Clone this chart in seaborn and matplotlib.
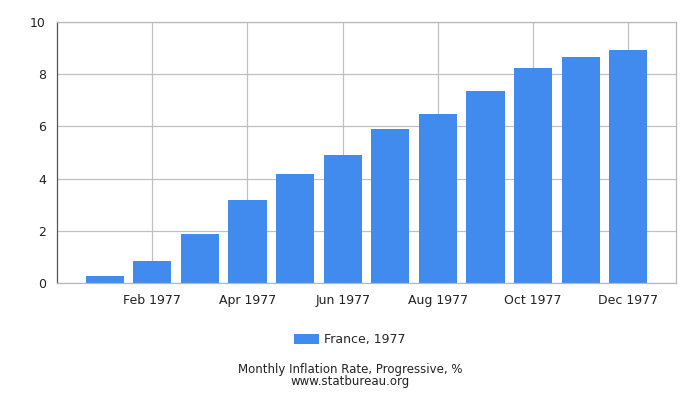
import matplotlib
matplotlib.use("Agg")
import matplotlib.pyplot as plt
import seaborn as sns
import pandas as pd

months = ["Jan 1977", "Feb 1977", "Mar 1977", "Apr 1977", "May 1977", "Jun 1977",
          "Jul 1977", "Aug 1977", "Sep 1977", "Oct 1977", "Nov 1977", "Dec 1977"]
values = [0.28, 0.86, 1.89, 3.19, 4.19, 4.92, 5.91, 6.49, 7.37, 8.25, 8.67, 8.94]
series_label = "France, 1977"
yticks = [0, 2, 4, 6, 8, 10]

sns.set_style("white")
plt.rcParams['font.family'] = ['DejaVu Sans']

df = pd.DataFrame({"month": months, "value": values, "series": series_label})

fig = plt.figure(figsize=(7, 4), dpi=100)
ax = fig.add_axes([57/700, 1 - 283/400, (676-57)/700, (283-22)/400])

sns.barplot(data=df, x="month", y="value", hue="series", order=months,
            palette=["#418bee"], width=0.8, ax=ax, legend=True, saturation=1,
            linewidth=0, edgecolor="none")

ax.set_xlim(-1, 12)
ax.set_ylim(0, 10)
ax.set_yticks(yticks)
ax.set_yticklabels([str(t) for t in yticks], fontsize=9, color="#222222")
tick_pos = [1, 3, 5, 7, 9, 11]
ax.set_xticks(tick_pos)
ax.set_xticklabels([months[i] for i in tick_pos], fontsize=9, color="#222222")
ax.set_xlabel("")
ax.set_ylabel("")
ax.grid(True, color="#c0c0c0", linewidth=0.9)
ax.set_axisbelow(True)
ax.tick_params(axis="both", direction="out", length=5, color="#444444", width=0.8, pad=3)
for s in ["top", "right", "bottom"]:
    ax.spines[s].set_color("#b8b8b8")
    ax.spines[s].set_linewidth(0.9)
ax.spines["left"].set_color("#555555")
ax.spines["left"].set_linewidth(0.9)

handles, labels = ax.get_legend_handles_labels()
ax.legend_.remove()
fig.legend(handles, labels, loc="center", bbox_to_anchor=(0.5, 1 - 340/400),
           frameon=False, fontsize=9, handlelength=2.0, handleheight=0.8,
           handletextpad=0.4)

fig.text(0.5, 1 - 370/400, "Monthly Inflation Rate, Progressive, %", ha="center", va="center",
         fontsize=8.5, color="#222222")
fig.text(0.5, 1 - 382/400, "www.statbureau.org", ha="center", va="center",
         fontsize=8.5, color="#222222")

fig.savefig("out.png", dpi=100)
